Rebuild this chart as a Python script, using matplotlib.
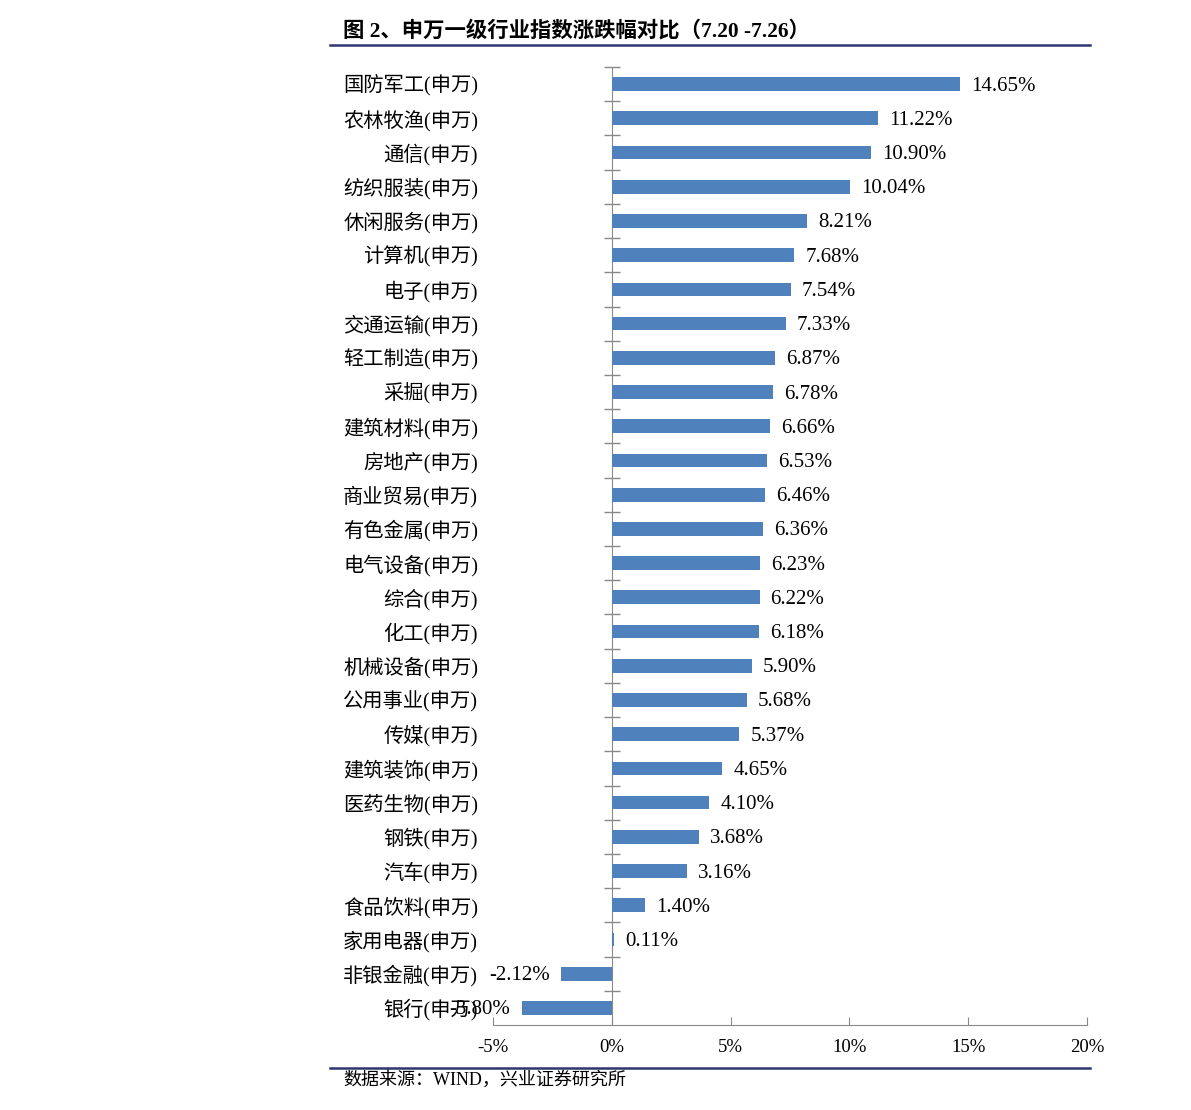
import matplotlib.pyplot as plt
import matplotlib.transforms as mtransforms
import numpy as np

plt.rcParams['font.family'] = ['Liberation Serif', 'Noto Sans CJK SC']

industries = ['国防军工', '农林牧渔', '通信', '纺织服装', '休闲服务', '计算机', '电子',
              '交通运输', '轻工制造', '采掘', '建筑材料', '房地产', '商业贸易', '有色金属',
              '电气设备', '综合', '化工', '机械设备', '公用事业', '传媒', '建筑装饰',
              '医药生物', '钢铁', '汽车', '食品饮料', '家用电器', '非银金融', '银行']
changes = [14.65, 11.22, 10.90, 10.04, 8.21, 7.68, 7.54, 7.33, 6.87, 6.78, 6.66, 6.53,
           6.46, 6.36, 6.23, 6.22, 6.18, 5.90, 5.68, 5.37, 4.65, 4.10, 3.68, 3.16,
           1.40, 0.11, -2.12, -3.80]
labels = [f'{name}(申万)' for name in industries]
x_ticks = [-5, 0, 5, 10, 15, 20]

bar_color = '#4F81BD'
axis_color = '#898989'
rule_color = '#2E3570'

fig = plt.figure(figsize=(11.91, 11.10), dpi=100)
ax = fig.add_axes([493 / 1191, 1 - 1025 / 1110, 594 / 1191, 958 / 1110])

n = len(changes)
pos = np.arange(n)
ax.barh(pos, changes, height=0.4, color=bar_color, zorder=3)
ax.set_ylim(n - 0.5, -0.5)
ax.set_xlim(-5, 20)

# zero line with category separators
ax.spines['left'].set_position(('data', 0))
ax.spines['left'].set_color(axis_color)
ax.set_yticks(np.arange(n) - 0.5)
ax.set_yticklabels([])
ax.tick_params(axis='y', direction='inout', length=12, color=axis_color, width=1)

for s in ['top', 'right']:
    ax.spines[s].set_visible(False)
ax.spines['bottom'].set_color(axis_color)
ax.set_xticks(x_ticks)
ax.set_xticklabels([f'{t}%' for t in x_ticks], fontsize=13.5)
ax.tick_params(axis='x', direction='in', length=6, color=axis_color, pad=10)

# category labels at the left edge
trans = mtransforms.blended_transform_factory(ax.transAxes, ax.transData)
trans = mtransforms.offset_copy(trans, fig=fig, x=0, y=-2, units='dots')
for i, lab in enumerate(labels):
    ax.text(-0.025, i, lab, transform=trans, ha='right', va='center', fontsize=14.6)

# value labels
off = mtransforms.offset_copy(ax.transData, fig=fig, x=11, y=-2, units='dots')
off_neg = mtransforms.offset_copy(ax.transData, fig=fig, x=-11, y=-2, units='dots')
for i, v in enumerate(changes):
    if v >= 0:
        ax.text(v, i, f'{v:.2f}%', transform=off, ha='left', va='center', fontsize=15)
    else:
        ax.text(v, i, f'{v:.2f}%', transform=off_neg, ha='right', va='center', fontsize=15)

# title and source
fig.text(343 / 1191, 1 - 31 / 1110, '图 2、申万一级行业指数涨跌幅对比（7.20 -7.26）',
         ha='left', va='center', fontsize=15.4, fontweight='bold')
fig.add_artist(plt.Line2D([330 / 1191, 1090 / 1191], [1 - 45 / 1110, 1 - 45 / 1110],
                          color=rule_color, lw=1.8))
fig.add_artist(plt.Line2D([330 / 1191, 1090 / 1191], [1 - 1068 / 1110, 1 - 1068 / 1110],
                          color=rule_color, lw=1.8))
fig.text(343 / 1191, 1 - 1080 / 1110, '数据来源：WIND，兴业证券研究所',
         ha='left', va='center', fontsize=13)

fig.savefig('out.png', dpi=100)
